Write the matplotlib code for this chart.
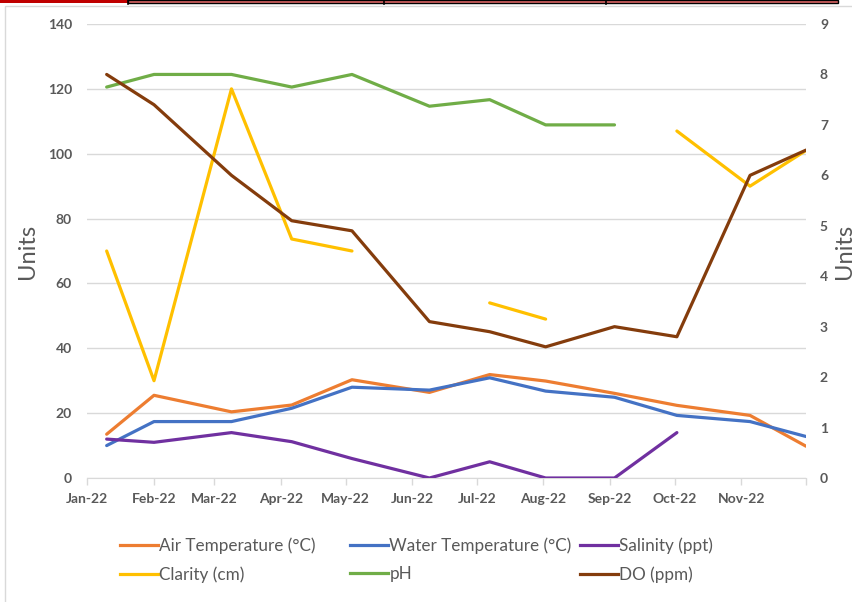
#! /usr/bin/env python3
# coding: utf-8

"""
    Water quality monitoring 2022 - line chart with two y axes
"""

import numpy as np
import matplotlib.pyplot as plt
from matplotlib.patches import Rectangle
from matplotlib.lines import Line2D

plt.rcParams['font.family'] = ['Lato', 'DejaVu Sans']

# sampling dates
dates = np.array(['2022-01-10', '2022-02-01', '2022-03-09', '2022-04-06', '2022-05-04', '2022-06-09',
                  '2022-07-07', '2022-08-02', '2022-09-03', '2022-10-02', '2022-11-05', '2022-12-01'],
                 dtype='datetime64[D]')

# left axis series
air_temp = [13.5, 25.5, 20.4, 22.5, 30.3, 26.4, 31.9, 29.9, 26.1, 22.4, 19.3, 9.8]
water_temp = [10, 17.4, 17.4, 21.5, 28, 27.1, 30.9, 26.8, 24.9, 19.3, 17.4, 12.8]
salinity = [12, 11, 14, 11.2, 6, 0, 5, 0, 0, 14, np.nan, np.nan]
clarity = [70, 30, 120, 73.7, 70, np.nan, 54, 49, np.nan, 107, 90, 101]

# right axis series
ph = [7.75, 8.0, 8.0, 7.75, 8.0, 7.37, 7.5, 7.0, 7.0, np.nan, np.nan, np.nan]
do_ppm = [8.0, 7.4, 6.0, 5.1, 4.9, 3.1, 2.9, 2.6, 3.0, 2.8, 6.0, 6.5]

month_ticks = np.arange('2022-01', '2022-12', dtype='datetime64[M]')
month_ticks = np.append(month_ticks, np.datetime64('2022-12')).astype('datetime64[D]')
month_labels = ['Jan-22', 'Feb-22', 'Mar-22', 'Apr-22', 'May-22', 'Jun-22',
                'Jul-22', 'Aug-22', 'Sep-22', 'Oct-22', 'Nov-22', '']

GRIS = '#595959'
W, H = 853, 602

fig = plt.figure(figsize=(W / 100, H / 100), dpi=100)
ax = fig.add_axes([87.3 / W, 1 - 478 / H, (806 - 87.3) / W, (478 - 24) / H])
ax2 = ax.twinx()

lw = 2.3
ax.plot(dates, air_temp, color='#ED7D31', lw=lw, solid_capstyle='round', zorder=3)
ax.plot(dates, water_temp, color='#4472C4', lw=lw, solid_capstyle='round', zorder=3)
ax.plot(dates, salinity, color='#7030A0', lw=lw, solid_capstyle='round', zorder=3)
ax.plot(dates, clarity, color='#FFC000', lw=lw, solid_capstyle='round', zorder=3)
ax2.plot(dates, ph, color='#70AD47', lw=lw, solid_capstyle='round')
ax2.plot(dates, do_ppm, color='#843C0C', lw=lw, solid_capstyle='round')

# left axis
ax.set_ylim(0, 140)
ax.set_yticks(range(0, 141, 20))
ax.set_xlim(np.datetime64('2022-01-01'), np.datetime64('2022-12-01'))
ax.set_xticks(month_ticks)
ax.set_xticklabels(month_labels)
ax.grid(axis='y', color='#D9D9D9', lw=1)
ax.set_axisbelow(True)
for s in ['top', 'left', 'right']:
    ax.spines[s].set_visible(False)
ax.spines['bottom'].set_color('#D9D9D9')
ax.tick_params(axis='y', length=0, pad=11, labelsize=10, labelcolor=GRIS)
ax.tick_params(axis='x', length=5, width=1, color='#D9D9D9', pad=6, labelsize=10, labelcolor=GRIS)
for lab in ax.get_xticklabels() + ax.get_yticklabels():
    lab.set_fontweight('bold')
ax.set_ylabel('Units', fontsize=17, color=GRIS, labelpad=7)

# right axis (its title is cut by the edge, as in the original)
ax2.set_ylim(0, 9)
ax2.set_yticks(range(0, 10))
for s in ax2.spines.values():
    s.set_visible(False)
ax2.tick_params(axis='y', length=0, pad=10, labelsize=10, labelcolor=GRIS)
for lab in ax2.get_yticklabels():
    lab.set_fontweight('bold')
ax2.set_ylabel('Units', fontsize=17, color=GRIS, labelpad=4, rotation=90)

# legend: one small legend per column
def handle(c):
    return Line2D([], [], color=c, lw=lw)

colonnes = [
    (120, [('#ED7D31', 'Air Temperature (°C)'), ('#FFC000', 'Clarity (cm)')]),
    (350, [('#4472C4', 'Water Temperature (°C)'), ('#70AD47', 'pH')]),
    (580, [('#7030A0', 'Salinity (ppt)'), ('#843C0C', 'DO (ppm)')]),
]
for x0, items in colonnes:
    leg = fig.legend([handle(c) for c, _ in items], [t for _, t in items], ncol=1, frameon=False,
                     fontsize=12.3, loc='center left', bbox_to_anchor=(x0 / W, 1 - 560 / H),
                     borderaxespad=0, borderpad=0, handlelength=2.2, handletextpad=0.1,
                     labelspacing=0.7)
    for t in leg.get_texts():
        t.set_color(GRIS)

# chart frame and bit of the table above
fig.patches.append(Rectangle((5 / W, -0.1), 1.2, 1 - 6 / H + 0.1, transform=fig.transFigure,
                             fill=False, edgecolor='#D9D9D9', lw=1))
fig.patches.append(Rectangle((0, 1 - 3 / H), 128 / W, 3 / H, transform=fig.transFigure,
                             color='#C00000', lw=0))
fig.patches.append(Rectangle((128 / W, 1 - 3 / H), (838 - 128) / W, 3 / H, transform=fig.transFigure,
                             facecolor='#E06666', edgecolor='black', lw=1))
for xs in [128, 384, 606]:
    fig.lines.append(Line2D([xs / W, xs / W], [1 - 4 / H, 1], transform=fig.transFigure,
                            color='black', lw=1.2))

fig.savefig('out.png', dpi=100)
